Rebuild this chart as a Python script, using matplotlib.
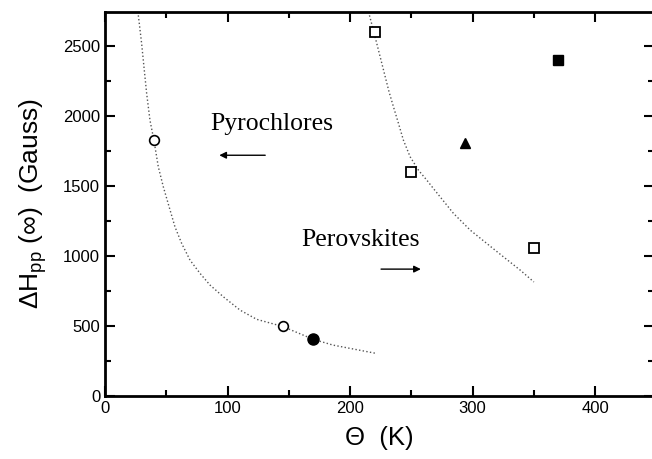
import matplotlib
matplotlib.use("Agg")
import matplotlib.pyplot as plt
from matplotlib.ticker import MultipleLocator

# data points
pyro_open_x = [40, 145]
pyro_open_y = [1830, 500]
pyro_fill_x = [170]
pyro_fill_y = [405]
perov_open_x = [220, 250, 350]
perov_open_y = [2600, 1600, 1055]
tri_x = [294]
tri_y = [1805]
fsq_x = [370]
fsq_y = [2400]

# dotted fit curves, traced points
pyro_fit_x = [27.2, 29.9, 31.8, 34.0, 36.7, 40.0, 43.5, 47.6, 53.1, 57.1, 62.6, 69.4,
              77.6, 85.7, 96.6, 110.2, 123.8, 145, 170, 186, 221]
pyro_fit_y = [2721, 2519, 2352, 2162, 1971, 1824, 1638, 1495, 1329, 1209, 1090, 971,
              876, 793, 709, 614, 548, 497, 405, 364, 305]
perov_fit_x = [215.8, 219.6, 231.8, 235.4, 239.5, 243.5, 249, 255.8, 262.6, 268,
               284.4, 298, 311.6, 325.1, 338.8, 350]
perov_fit_y = [2721, 2595, 2174, 2067, 1948, 1829, 1710, 1614, 1543, 1483,
               1305, 1186, 1090, 995, 900, 815]

plt.rcParams['mathtext.fontset'] = 'custom'
plt.rcParams['mathtext.rm'] = 'Liberation Sans'
plt.rcParams['mathtext.it'] = 'Liberation Sans:italic'

fig = plt.figure(figsize=(6.52, 4.59), dpi=100)
ax = fig.add_axes([105/652, 1-396/459, 549/652, 384/459])

ax.plot(pyro_fit_x, pyro_fit_y, ':', color='#555555', lw=1)
ax.plot(perov_fit_x, perov_fit_y, ':', color='#555555', lw=1)

ax.plot(pyro_open_x, pyro_open_y, 'o', mfc='white', mec='black', mew=1.2, ms=7)
ax.plot(pyro_fill_x, pyro_fill_y, 'o', color='black', ms=8)
ax.plot(perov_open_x, perov_open_y, 's', mfc='white', mec='black', mew=1.3, ms=6.5)
ax.plot(tri_x, tri_y, '^', color='black', ms=7.5)
ax.plot(fsq_x, fsq_y, 's', color='black', ms=7)

ax.text(86, 1945, 'Pyrochlores', family='Liberation Serif', fontsize=18.5, va='center')
ax.annotate('', xy=(91, 1721), xytext=(133, 1721),
            arrowprops=dict(arrowstyle='-|>', color='black', lw=1, mutation_scale=10))
ax.text(160, 1114, 'Perovskites', family='Liberation Serif', fontsize=18.5, va='center')
ax.annotate('', xy=(260, 907), xytext=(223, 907),
            arrowprops=dict(arrowstyle='-|>', color='black', lw=1, mutation_scale=10))

ax.set_xlim(0, 448)
ax.set_ylim(0, 2745)
ax.xaxis.set_major_locator(MultipleLocator(100))
ax.xaxis.set_minor_locator(MultipleLocator(50))
ax.yaxis.set_major_locator(MultipleLocator(500))
ax.yaxis.set_minor_locator(MultipleLocator(250))
ax.tick_params(which='both', direction='in', top=True, right=True, width=1.5,
               labelsize=12, labelfontfamily='Liberation Sans')
ax.tick_params(which='major', length=7)
ax.tick_params(which='minor', length=4)
for s in ax.spines.values():
    s.set_linewidth(2)

ax.set_xlabel('Θ  (K)', family='Liberation Sans', fontsize=18.5, labelpad=7)
ax.set_ylabel(r'ΔH$_{\mathrm{pp}}$ (∞)  (Gauss)', family='Liberation Sans', fontsize=19, labelpad=10)

fig.savefig('out.png', dpi=100)
